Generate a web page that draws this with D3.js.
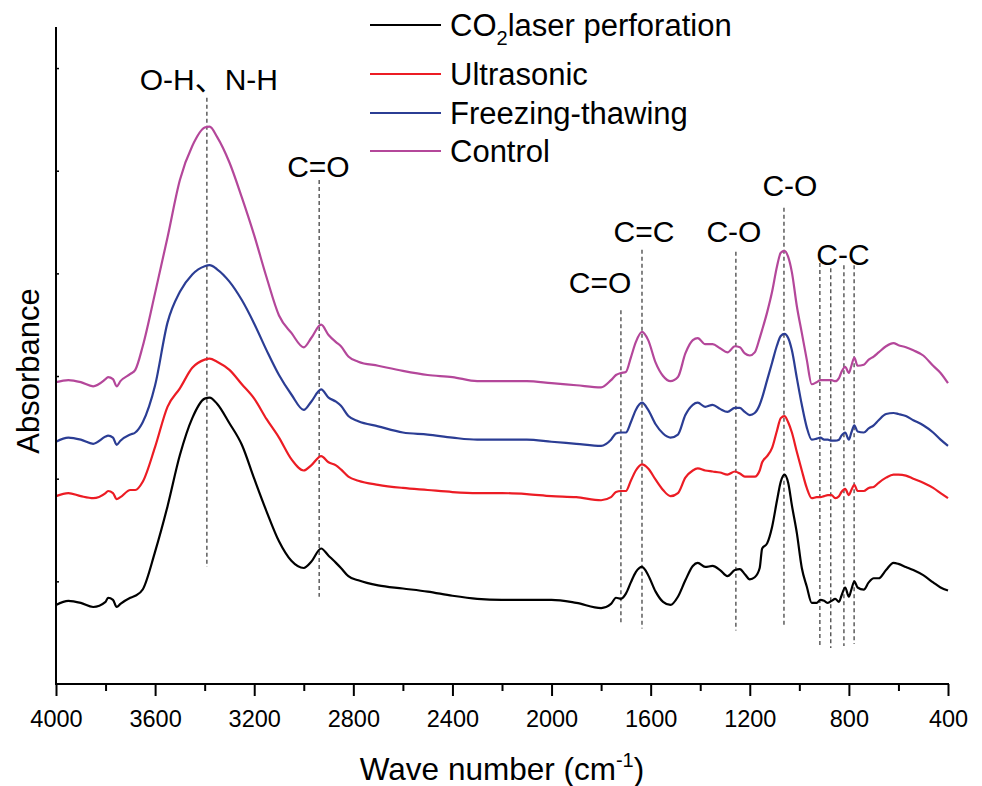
<!DOCTYPE html>
<html>
<head>
<meta charset="utf-8">
<script src="https://cdn.jsdelivr.net/npm/d3@7"></script>
<style>
  body { margin: 0; background: #fff; }
  svg { display: block; font-family: "Liberation Sans", Arial, "Noto Sans CJK SC", sans-serif; }
</style>
</head>
<body>
<svg id="chart" width="982" height="786"></svg>
<script>
// wave numbers (cm-1) shared by all four spectra
var waveNumbers = [4000, 3950, 3900, 3850, 3800, 3790, 3770, 3755, 3740, 3700, 3680, 3650, 3600, 3550, 3500, 3450, 3400, 3380, 3350, 3300,
  3250, 3200, 3150, 3100, 3050, 3000, 2970, 2930, 2900, 2870, 2850, 2820, 2780, 2700, 2600, 2500, 2400, 2300, 2200, 2100,
  2000, 1900, 1800, 1760, 1740, 1720, 1700, 1680, 1660, 1635, 1610, 1580, 1550, 1520, 1490, 1460, 1430, 1410, 1380, 1350,
  1320, 1290, 1260, 1240, 1220, 1200, 1180, 1160, 1150, 1130, 1110, 1090, 1075, 1060, 1045, 1030, 1010, 990, 970, 950,
  930, 915, 900, 885, 870, 855, 840, 830, 815, 800, 790, 778, 765, 740, 720, 700, 680, 650, 620, 600,
  570, 540, 500, 460, 430, 400];

var laserAbs = [0.77, 0.81, 0.79, 0.75, 0.80, 0.84, 0.82, 0.75, 0.78, 0.84, 0.86, 0.92, 1.29, 1.73, 2.23, 2.59, 2.78, 2.79, 2.73, 2.54,
  2.33, 2.00, 1.68, 1.39, 1.20, 1.13, 1.19, 1.32, 1.25, 1.18, 1.13, 1.05, 1.01, 0.96, 0.93, 0.90, 0.86, 0.83, 0.82, 0.82,
  0.82, 0.79, 0.74, 0.78, 0.84, 0.83, 0.88, 0.99, 1.09, 1.14, 1.06, 0.90, 0.80, 0.77, 0.85, 1.01, 1.15, 1.18, 1.14, 1.15,
  1.11, 1.05, 1.11, 1.12, 1.07, 1.02, 1.04, 1.13, 1.32, 1.37, 1.53, 1.79, 1.97, 2.04, 1.96, 1.74, 1.47, 1.13, 0.95, 0.79,
  0.79, 0.82, 0.81, 0.79, 0.81, 0.83, 0.80, 0.86, 0.94, 0.85, 0.92, 1.00, 0.94, 0.92, 0.99, 1.03, 1.03, 1.11, 1.18, 1.17,
  1.14, 1.11, 1.06, 0.99, 0.94, 0.91];

var ultrasonicAbs = [1.83, 1.86, 1.83, 1.81, 1.86, 1.88, 1.86, 1.80, 1.82, 1.89, 1.89, 1.97, 2.31, 2.70, 2.88, 3.08, 3.16, 3.17, 3.14, 3.06,
  2.92, 2.78, 2.58, 2.40, 2.19, 2.08, 2.13, 2.22, 2.16, 2.13, 2.09, 2.02, 1.98, 1.94, 1.91, 1.89, 1.87, 1.86, 1.86, 1.85,
  1.83, 1.82, 1.79, 1.82, 1.87, 1.88, 1.88, 1.98, 2.08, 2.14, 2.10, 1.99, 1.89, 1.83, 1.86, 2.01, 2.08, 2.10, 2.08, 2.07,
  2.06, 2.04, 2.07, 2.05, 2.02, 2.02, 2.02, 2.08, 2.16, 2.22, 2.30, 2.47, 2.59, 2.61, 2.55, 2.45, 2.26, 2.08, 1.91, 1.81,
  1.82, 1.82, 1.83, 1.84, 1.84, 1.81, 1.83, 1.87, 1.90, 1.84, 1.89, 1.94, 1.88, 1.88, 1.91, 1.92, 1.96, 2.01, 2.04, 2.04,
  2.03, 2.00, 1.96, 1.91, 1.86, 1.81];

var freezingAbs = [2.36, 2.40, 2.38, 2.34, 2.41, 2.42, 2.40, 2.33, 2.37, 2.43, 2.45, 2.55, 2.91, 3.52, 3.82, 3.99, 4.07, 4.08, 4.04, 3.92,
  3.74, 3.51, 3.25, 3.01, 2.82, 2.67, 2.75, 2.87, 2.79, 2.75, 2.71, 2.61, 2.56, 2.51, 2.45, 2.43, 2.40, 2.38, 2.38, 2.38,
  2.36, 2.34, 2.32, 2.38, 2.44, 2.45, 2.45, 2.55, 2.67, 2.74, 2.67, 2.53, 2.44, 2.40, 2.43, 2.62, 2.72, 2.74, 2.70, 2.72,
  2.68, 2.65, 2.69, 2.69, 2.65, 2.62, 2.64, 2.72, 2.79, 2.96, 3.13, 3.30, 3.39, 3.41, 3.37, 3.25, 2.98, 2.72, 2.50, 2.38,
  2.39, 2.40, 2.38, 2.38, 2.37, 2.37, 2.38, 2.42, 2.45, 2.38, 2.45, 2.52, 2.46, 2.45, 2.49, 2.52, 2.57, 2.63, 2.64, 2.63,
  2.61, 2.57, 2.52, 2.45, 2.38, 2.32];

var controlAbs = [2.94, 2.96, 2.94, 2.90, 2.97, 2.99, 2.97, 2.90, 2.95, 3.02, 3.06, 3.29, 3.81, 4.35, 4.91, 5.24, 5.42, 5.43, 5.33, 5.08,
  4.74, 4.37, 3.96, 3.59, 3.42, 3.28, 3.37, 3.50, 3.40, 3.33, 3.29, 3.19, 3.14, 3.10, 3.05, 3.01, 2.99, 2.95, 2.95, 2.95,
  2.93, 2.91, 2.89, 2.96, 3.01, 3.03, 3.04, 3.18, 3.33, 3.43, 3.35, 3.13, 3.00, 2.95, 2.99, 3.22, 3.35, 3.37, 3.31, 3.31,
  3.27, 3.23, 3.29, 3.28, 3.22, 3.20, 3.23, 3.37, 3.45, 3.62, 3.82, 4.07, 4.20, 4.22, 4.16, 4.01, 3.68, 3.42, 3.16, 2.92,
  2.94, 2.96, 2.96, 2.96, 2.96, 2.95, 2.98, 3.04, 3.09, 3.03, 3.10, 3.18, 3.10, 3.11, 3.16, 3.19, 3.23, 3.29, 3.32, 3.30,
  3.28, 3.25, 3.20, 3.10, 3.03, 2.93];

var seriesLabels = ["laser", "Ultrasonic", "Freezing-thawing", "Control"];
var seriesColors = ["#000000", "#ec1c24", "#2b3d94", "#b4479a"];

// band markers: line wave number, line top, line bottom (absorbance units)
var bandWave = [3391, 2938, 1720, 1635, 1256, 1062, 917, 873, 820, 779];
var bandTop = [5.71, 4.91, 3.64, 4.23, 4.21, 4.64, 4.10, 4.05, 4.08, 4.08];
var bandBottom = [1.14, 0.85, 0.59, 0.54, 0.52, 0.56, 0.38, 0.35, 0.37, 0.39];
var bandLabels = ["O-H\u3001N-H", "C=O", "C=O", "C=C", "C-O", "C-O", "C-C"];
var bandLabelWave = [3383, 2941, 1804, 1627, 1264, 1038, 824];
var bandLabelY = [5.79, 4.94, 3.81, 4.31, 4.31, 4.75, 4.08];

var xTicks = [4000, 3600, 3200, 2800, 2400, 2000, 1600, 1200, 800, 400];

var svg = d3.select('#chart');
var plotLeft = 56, plotRight = 948, plotTop = 27, plotBottom = 684;

var x = d3.scaleLinear().domain([4000, 400]).range([plotLeft, plotRight]);
var y = d3.scaleLinear().domain([0, 6.4]).range([plotBottom, plotTop]);

// dashed band markers
svg.append('g').selectAll('line').data(bandWave).enter().append('line')
    .attr('x1', function(d) { return x(d); })
    .attr('x2', function(d) { return x(d); })
    .attr('y1', function(d, i) { return y(bandTop[i]); })
    .attr('y2', function(d, i) { return y(bandBottom[i]); })
    .attr('stroke', '#222')
    .attr('stroke-width', 1.1)
    .attr('stroke-dasharray', '4,3');

svg.append('g').selectAll('text').data(bandLabels).enter().append('text')
    .attr('x', function(d, i) { return x(bandLabelWave[i]); })
    .attr('y', function(d, i) { return y(bandLabelY[i]); })
    .attr('text-anchor', 'middle')
    .style('font-size', '30px')
    .text(function(d) { return d; });

// spectra
var allSeries = [laserAbs, ultrasonicAbs, freezingAbs, controlAbs];
var line = d3.line()
    .x(function(d, i) { return x(waveNumbers[i]); })
    .y(function(d) { return y(d); })
    .curve(d3.curveMonotoneX);

svg.append('g').selectAll('path').data(allSeries).enter().append('path')
    .attr('d', line)
    .attr('fill', 'none')
    .attr('stroke', function(d, i) { return seriesColors[i]; })
    .attr('stroke-width', 2.2)
    .attr('stroke-linejoin', 'round');

// x axis: minor then major ticks
var xMinor = svg.append('g').attr('transform', 'translate(0,' + plotBottom + ')')
    .call(d3.axisBottom(x).tickValues(d3.range(3800, 400, -400)).tickSize(7).tickFormat(''));
xMinor.select('.domain').remove();
var xMajor = svg.append('g').attr('transform', 'translate(0,' + plotBottom + ')')
    .call(d3.axisBottom(x).tickValues(xTicks).tickSize(12).tickPadding(14).tickFormat(d3.format('d')));
xMajor.select('.domain').remove();
xMajor.attr('font-family', null).attr('font-size', null);
xMajor.selectAll('text').style('font-size', '23.5px').attr('fill', '#000');
svg.selectAll('.tick line').attr('stroke-width', 2);
svg.append('line').attr('x1', plotLeft - 1).attr('x2', plotRight + 1).attr('y1', plotBottom).attr('y2', plotBottom)
    .attr('stroke', '#000').attr('stroke-width', 2);

// y axis with inward ticks, no labels
var yAxisG = svg.append('g').attr('transform', 'translate(' + plotLeft + ',0)')
    .call(d3.axisRight(y).tickValues([1, 2, 3, 4, 5, 6]).tickSize(3).tickFormat(''));
yAxisG.select('.domain').remove();
yAxisG.selectAll('.tick line').attr('stroke-width', 1.5);
svg.append('line').attr('x1', plotLeft).attr('x2', plotLeft).attr('y1', plotTop).attr('y2', plotBottom + 1)
    .attr('stroke', '#000').attr('stroke-width', 2);

// axis titles
var xTitle = svg.append('text').attr('x', (plotLeft + plotRight) / 2).attr('y', 780)
    .attr('text-anchor', 'middle').style('font-size', '31.5px');
xTitle.append('tspan').text('Wave number (cm');
xTitle.append('tspan').attr('dy', -13).style('font-size', '20px').text('-1');
xTitle.append('tspan').attr('dy', 13).text(')');

svg.append('text').attr('transform', 'translate(39,371) rotate(-90)')
    .attr('text-anchor', 'middle').style('font-size', '31px').text('Absorbance');

// legend
var legendY = [25, 74, 113, 151];
var legend = svg.append('g').selectAll('g').data(seriesLabels).enter().append('g')
    .attr('transform', function(d, i) { return 'translate(370,' + legendY[i] + ')'; });
legend.append('line').attr('x1', 0).attr('x2', 71)
    .attr('stroke', function(d, i) { return seriesColors[i]; })
    .attr('stroke-width', 2.2);
legend.each(function(d, i) {
    var t = d3.select(this).append('text').attr('x', 80).attr('y', 11).style('font-size', '31px');
    if (i === 0) {
        t.append('tspan').text('CO');
        t.append('tspan').attr('dy', 9).style('font-size', '20px').text('2');
        t.append('tspan').attr('dy', -9).text('laser perforation');
    } else {
        t.text(d);
    }
});
</script>
</body>
</html>
